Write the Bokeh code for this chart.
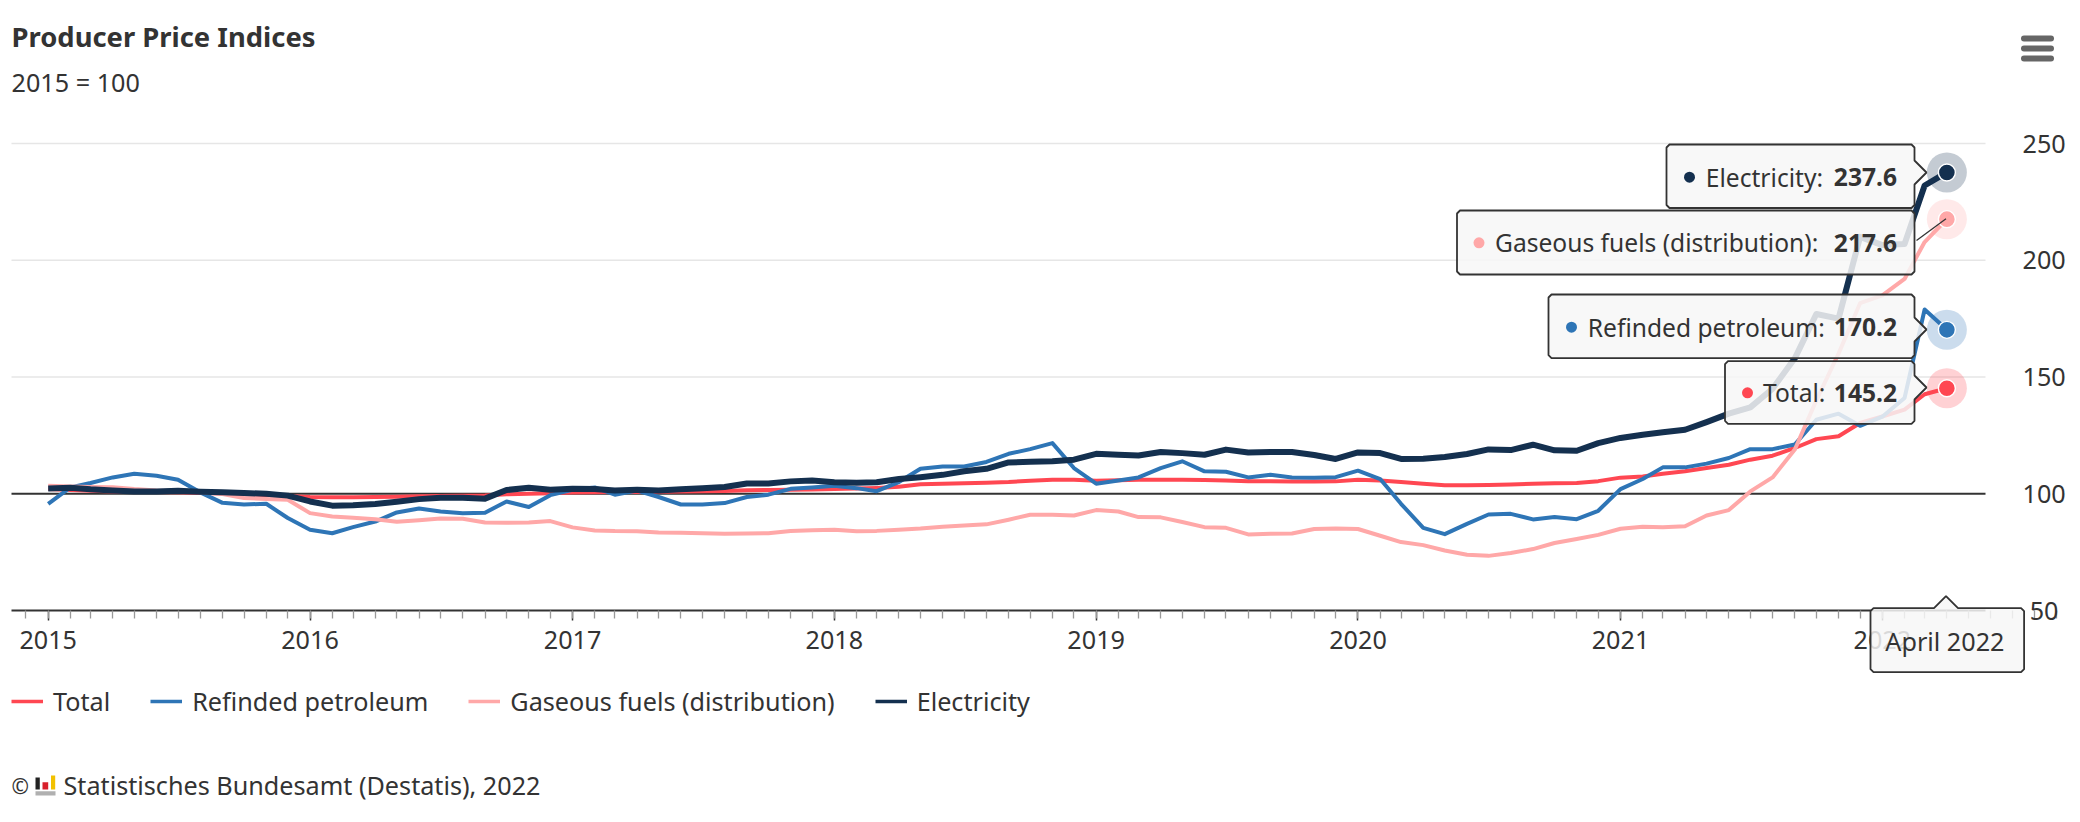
import pandas as pd
from bokeh.plotting import figure
from bokeh.models import (Range1d, FixedTicker, DatetimeTickFormatter, Label, PolyAnnotation,
                          BoxAnnotation, Legend, LegendItem)
from bokeh.embed import file_html
from bokeh.resources import INLINE

TITLE = "Producer Price Indices"
SUBTITLE = "2015 = 100"
CREDIT = "Statistisches Bundesamt (Destatis), 2022"
months = pd.date_range("2015-01-01", periods=88, freq="MS")
years = list(range(2015, 2023))
y_ticks = [100, 150, 200, 250]
grid_ticks = [150, 200, 250]
base_tick = [100]

total = [102,101.6,101.3,101,100.8,100.7,100.6,100.4,100.1,99.8,99.5,99,98.6,98.5,98.5,98.6,98.7,98.9,99,99.1,
         99.2,99.8,100,100.2,100.5,100.6,100.7,100.8,100.9,101,101.1,101.2,101.5,101.6,101.7,101.8,102,102.2,102.5,103,
         104.1,104.3,104.5,104.7,105,105.6,106,106,105.6,105.8,106,106,106,105.9,105.7,105.4,105.4,105.2,105.2,105.3,
         106,105.7,105,104.3,103.6,103.6,103.7,104,104.3,104.5,104.6,105.4,106.9,107.4,108.6,109.6,111,112.4,114.6,116.3,
         119.6,123.4,124.6,130.3,133.1,136,142.6,145.2]
petroleum = [95.7,102.7,104.6,107,108.6,107.7,106,100.6,96.1,95.4,95.7,89.6,84.6,83.1,85.7,88.1,92,93.7,92.4,91.6,
             91.9,96.7,94.3,99.4,101.7,102.7,99.6,101.4,98.6,95.4,95.4,96,98.6,99.6,102.1,102.7,103.4,102.4,101.1,105,
             110.7,111.7,111.7,113.6,117.1,119.1,121.7,111,104.3,105.7,107,111,113.9,109.6,109.4,107,108.1,107,106.9,107.1,
             109.9,106.3,95.7,85.4,82.7,87.1,91.1,91.4,89,90,89.1,92.7,102,106.3,111.3,111.3,112.9,115.3,119.1,119.1,
             121.1,131.7,134.3,129.1,133,141,178.9,170.2]
gaseous = [103.4,103.1,102.9,102.8,102,101.4,101.3,100.6,99.9,98.2,97.7,97.4,91.7,90.3,89.7,89.1,88,88.7,89.4,89.3,
           87.7,87.6,87.7,88.3,85.6,84.3,84,83.9,83.4,83.3,83.1,82.9,83,83.1,84,84.4,84.6,83.9,84.1,84.6,
           85.1,85.9,86.4,86.9,88.9,91,91,90.7,93,92.4,90,89.9,87.9,85.7,85.4,82.6,82.9,83,84.9,85.1,
           84.9,82,79.3,78,75.7,73.9,73.4,74.6,76.3,78.9,80.6,82.4,85,85.9,85.7,86.1,90.7,93,101,107,
           118.9,140,160,181.6,185,192,207.8,217.6]
electricity = [102.3,102.6,101.9,101.4,101,101,101.3,100.9,100.6,100.3,100,99.2,96.7,94.9,95.1,95.6,96.6,97.7,98.3,98.3,
               97.9,101.6,102.6,101.7,102.1,102,101.4,101.7,101.4,101.9,102.4,102.9,104.4,104.4,105.3,105.7,104.9,104.7,104.9,106.3,
               107.1,108.1,109.6,110.7,113.4,113.7,113.9,114.6,117.1,116.7,116.4,117.9,117.4,116.7,118.9,117.7,117.9,117.9,116.6,114.9,
               117.7,117.4,114.9,115,115.7,117,119,118.7,121,118.6,118.4,121.7,123.9,125.3,126.3,127.4,130.7,134.3,137,145,
               158,177,175,210,206.5,207,232,237.6]

series = [("Total", total, "#ff4752", 4), ("Refinded petroleum", petroleum, "#2e75b6", 4),
          ("Gaseous fuels (distribution)", gaseous, "#ffa8a8", 4), ("Electricity", electricity, "#14304f", 6)]

FONT = "Noto Sans"
TXT = "#333333"
FS = "25.2px"
TIP = "24.6px"
WIDTH, HEIGHT = 2072, 814

# pixel positions of the plot area within the figure
FL, FR, FT, FB = 11, 1985, 143, 610
day = 86400000.0
jan15 = pd.Timestamp("2015-01-01").value / 1e6
pxday = (1620 - 47.7) / 2192

def X(px):
    return jan15 + (px - 47.7) / pxday * day

def Y(py):
    return 50 + (FB - py) / (FB - FT) * 200

p = figure(width=WIDTH, height=HEIGHT, output_backend="svg", toolbar_location=None,
           x_axis_type="datetime", y_axis_location="right",
           x_range=Range1d(X(0), X(WIDTH)), y_range=Range1d(Y(HEIGHT), Y(0)),
           min_border_left=0, min_border_right=0, min_border_top=0, min_border_bottom=0)
p.outline_line_color = None
p.background_fill_color = "white"
p.border_fill_color = "white"

major = [pd.Timestamp(f"{y}-01-01").value / 1e6 for y in years]
minor = [d.value / 1e6 for d in pd.date_range("2014-12-01", "2022-12-01", freq="MS")]
ax = p.xaxis[0]
ax.fixed_location = 50
ax.bounds = (X(FL), X(FR))
ax.ticker = FixedTicker(ticks=major, minor_ticks=minor)
ax.formatter = DatetimeTickFormatter(years="%Y", months="%Y", days="%Y", hours="%Y", context=None)
ax.axis_line_color = TXT
ax.axis_line_width = 2
ax.major_tick_line_color = TXT
ax.major_tick_line_width = 1.5
ax.minor_tick_line_color = "#999999"
ax.minor_tick_line_width = 1.3
ax.major_tick_out = 10
ax.major_tick_in = 0
ax.minor_tick_out = 8
ax.minor_tick_in = 0
ax.major_label_standoff = 10
ax.major_label_text_font = FONT
ax.major_label_text_font_size = FS
ax.major_label_text_color = TXT

ay = p.yaxis[0]
ay.fixed_location = X(FR)
ay.ticker = FixedTicker(ticks=y_ticks)
ay.axis_line_color = None
ay.major_tick_line_color = None
ay.minor_tick_line_color = None
ay.major_label_standoff = 31
ay.major_label_text_font = FONT
ay.major_label_text_font_size = FS
ay.major_label_text_color = TXT

p.xgrid.visible = False
p.ygrid.visible = False
n = len(grid_ticks)
p.segment([X(FL)] * n, grid_ticks, [X(FR)] * n, grid_ticks, line_color="#e6e6e6", line_width=1.3, level="underlay")
p.segment([X(FL)], base_tick, [X(FR)], base_tick, line_color=TXT, line_width=2, level="underlay")

legend_items = []
for name, vals, col, w in series:
    p.line(months, vals, line_color=col, line_width=w, line_join="round")
    d = p.line(months[:1], vals[:1], line_color=col, line_width=3.6)
    legend_items.append(LegendItem(label=name, renderers=[d]))

for name, vals, col, w in series:
    p.scatter([months[-1]], [vals[-1]], size=40, fill_color=col, fill_alpha=0.25, line_color=None)
    p.scatter([months[-1]], [vals[-1]], size=17, fill_color=col, line_color="white", line_width=1.4)

legend = Legend(items=legend_items, orientation="horizontal", location=(11, HEIGHT - 704 - 14),
                glyph_width=32, glyph_height=20, label_standoff=10, spacing=40, padding=0, margin=0,
                background_fill_alpha=0, border_line_color=None,
                label_text_font=FONT, label_text_font_size=FS, label_text_color=TXT)
p.add_layout(legend, "center")

def label(text, px, py, size=FS, style="normal", align="left", color=TXT, font=FONT):
    p.add_layout(Label(x=X(px), y=Y(py), text=text, text_font=font, text_font_size=size, text_font_style=style,
                       text_align=align, text_baseline="middle", text_color=color, level="overlay"))

def poly(xs, ys):
    p.add_layout(PolyAnnotation(xs=[X(v) for v in xs], ys=[Y(v) for v in ys], fill_color="#f7f7f7", fill_alpha=0.85,
                                line_color=TXT, line_alpha=1, line_width=1.8, level="annotation"))

def tooltip(l, t, r, b, tip_y=None, tip_top=None):
    c = 3
    xs = [l + c]
    ys = [t]
    if tip_top is not None:
        xs += [tip_top - 12, tip_top, tip_top + 12]
        ys += [t, t - 12, t]
    xs += [r - c, r]
    ys += [t, t + c]
    if tip_y is not None:
        xs += [r, r + 12, r]
        ys += [tip_y - 12, tip_y, tip_y + 12]
    xs += [r, r - c, l + c, l, l]
    ys += [b - c, b, b, b - c, t + c]
    poly(xs, ys)

def box(l, t, r, b, col, radius=0):
    p.add_layout(BoxAnnotation(left=X(l), right=X(r), top=Y(t), bottom=Y(b), fill_color=col, fill_alpha=1,
                               line_color=None, border_radius=radius, level="overlay"))

def dot(px, py, col):
    p.scatter([X(px)], [Y(py)], size=11, fill_color=col, line_color=None, level="overlay")

# texts outside the plotting area
label(TITLE, 11, 36, size="27.4px", style="bold")
label(SUBTITLE, 11, 81)
label("50", 2058, 610, align="right")
label("\u00a9", 11, 785, size="21px")
label(CREDIT, 63, 784)
box(35, 777, 39.3, 789, "#222222")
box(42, 781.7, 47.7, 789, "#d8202c")
box(50.5, 775, 54.7, 789, "#f2c100")
box(35, 790.7, 55, 795, "#b0b0b0")
for t0 in (35, 45, 55):
    box(2020.5, t0, 2053.5, t0 + 6, "#666666", radius=3)

# tooltips
tooltip(1666, 144, 1914, 207.5, tip_y=172)
tooltip(1456.5, 210, 1914, 274)
tooltip(1548, 294, 1914, 357.7, tip_y=329)
tooltip(1724.5, 360.7, 1914, 423.3, tip_y=387)
tooltip(1870, 607.7, 2023.6, 671.7, tip_top=1945.5)
p.line([X(1916), X(1945.5)], [Y(240), Y(218.3)], line_color=TXT, line_width=1.3, level="overlay")

rows = [("Total", 1747, 1762.5, 392.3, 0), ("Refinded petroleum", 1571, 1587.3, 326.7, 1),
        ("Gaseous fuels (distribution)", 1478.5, 1494.5, 242.3, 2), ("Electricity", 1689, 1705.3, 176.7, 3)]
for name, dx, tx, ty, idx in rows:
    _, vals, col, _w = series[idx]
    dot(dx, ty, col)
    label(f"{name}:", tx, ty, size=TIP)
    label(f"{vals[-1]:.1f}", 1896.5, ty, style="bold", align="right", size=TIP)
label("April 2022", 1884.8, 640.7)

open("out.html", "w").write(file_html(p, INLINE))
